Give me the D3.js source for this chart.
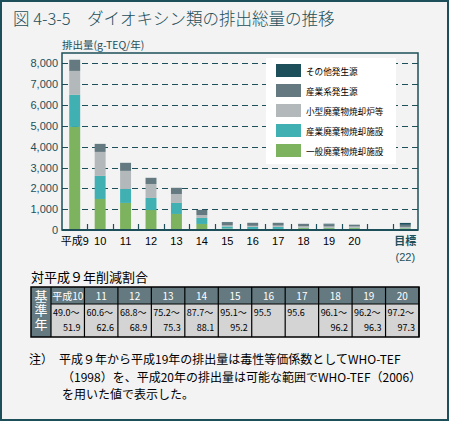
<!DOCTYPE html>
<html><head><meta charset="utf-8">
<script src="https://cdn.jsdelivr.net/npm/d3@7"></script>
<style>
html,body{margin:0;padding:0;background:#f3f3f3;}
svg{display:block;font-family:"Noto Sans CJK JP","Noto Sans",sans-serif;}
</style></head><body>
<svg id="c" width="449" height="421"></svg>
<script>
// ---- data ----
const categories = ["平成9","10","11","12","13","14","15","16","17","18","19","20","","目標"];
const seriesNames = ["一般廃棄物焼却施設","産業廃棄物焼却施設","小型廃棄物焼却炉等","産業系発生源","その他発生源"];
const general   = [4950,1490,1300,960,770,290,70,50,50,90,90,90,0,80];
const industrialWaste = [1540,1110,670,580,530,290,100,100,100,20,20,20,0,10];
const smallIncin = [1150,1150,870,670,430,140,50,50,60,70,60,60,0,60];
const industrySrc = [530,380,380,290,290,240,140,140,130,110,100,80,0,100];
const otherSrc = [5,5,5,5,5,5,25,5,5,5,30,5,0,90];
const yTicks = [0,1000,2000,3000,4000,5000,6000,7000,8000];
const tableYears = ["平成10","11","12","13","14","15","16","17","18","19","20"];
const tableLow  = ["49.0～","60.6～","68.8～","75.2～","87.7～","95.1～","95.5","95.6","96.1～","96.2～","97.2～"];
const tableHigh = ["51.9","62.6","68.9","75.3","88.1","95.2","","","96.2","96.3","97.3"];
const noteLines = ["注）　平成９年から平成19年の排出量は毒性等価係数としてWHO-TEF","（1998）を、平成20年の排出量は可能な範囲でWHO-TEF（2006）","を用いた値で表示した。"];

const colors = ["#7db25e","#40b0b2","#b3b8ba","#647a80","#1d4f5a"];
const teal = "#1d4f5a";

const svg = d3.select("#c");
svg.append("rect").attr("x",1).attr("y",1).attr("width",447).attr("height",419)
  .attr("fill","#f3f3f3").attr("stroke",teal).attr("stroke-width",2);

// title
svg.append("text").attr("x",13).attr("y",25).attr("font-size",16.5).attr("fill",teal)
  .attr("font-weight",300)
  .text("図 4-3-5　ダイオキシン類の排出総量の推移");

// scales
const L=62,R=418,T=53,B=230;
const x = d3.scaleBand().domain(categories).range([L,R]).paddingInner(0.57).paddingOuter(0.285);
const y = d3.scaleLinear().domain([0,8500]).range([B,T]);

// grid
svg.append("g").selectAll("line").data(yTicks.filter(d=>d>0)).join("line")
  .attr("x1",L).attr("x2",R).attr("y1",d=>Math.round(y(d))+0.5).attr("y2",d=>Math.round(y(d))+0.5)
  .attr("stroke",teal).attr("stroke-width",1.2).attr("stroke-dasharray","6,4");

// stacked bars
const rows = categories.map((c,i)=>({cat:c,s0:general[i],s1:industrialWaste[i],s2:smallIncin[i],s3:industrySrc[i],s4:otherSrc[i]}));
const stack = d3.stack().keys(["s0","s1","s2","s3","s4"])(rows);
svg.append("g").selectAll("g").data(stack).join("g").attr("fill",(d,i)=>colors[i])
  .selectAll("rect").data(d=>d).join("rect")
  .attr("x",d=>x(d.data.cat)).attr("width",x.bandwidth())
  .attr("y",d=>y(d[1])).attr("height",d=>Math.max(0,y(d[0])-y(d[1])));

// frame
svg.append("rect").attr("x",L).attr("y",T).attr("width",R-L).attr("height",B-T)
  .attr("fill","none").attr("stroke",teal).attr("stroke-width",1.5);
svg.append("line").attr("x1",L).attr("x2",R).attr("y1",B).attr("y2",B).attr("stroke",teal).attr("stroke-width",2);

// ticks between bands
const step = x.step();
svg.append("g").selectAll("line").data(categories.slice(1)).join("line")
  .attr("x1",d=>Math.round(x(d)-(step-x.bandwidth())/2)+0.5)
  .attr("x2",d=>Math.round(x(d)-(step-x.bandwidth())/2)+0.5)
  .attr("y1",B).attr("y2",B-6).attr("stroke",teal).attr("stroke-width",1.2);

// y axis labels
const yAxis = d3.axisLeft(y).tickValues(yTicks).tickFormat(d3.format(",")).tickSize(0).tickPadding(4);
const gy = svg.append("g").attr("transform",`translate(${L},0)`).call(yAxis);
gy.select(".domain").remove();
gy.selectAll("text").attr("font-size",11).attr("fill",teal).attr("font-family","'Liberation Sans',sans-serif");

// x axis labels
const xAxis = d3.axisBottom(x).tickSize(0).tickPadding(7);
const gx = svg.append("g").attr("transform",`translate(0,${B})`).call(xAxis);
gx.select(".domain").remove();
gx.selectAll("text").attr("font-size",11).attr("fill",d=>d==="目標"?teal:"#000")
  .attr("font-weight",d=>d==="目標"?700:400)
  .attr("font-family",d=>/^\d+$/.test(d)?"'Liberation Sans',sans-serif":"'Noto Sans CJK JP',sans-serif");
gx.selectAll(".tick").filter(d=>d==="目標").append("text")
  .attr("y",23).attr("dy","0.71em").attr("text-anchor","middle").attr("font-size",11)
  .attr("fill",teal).attr("font-family","'Liberation Sans',sans-serif").text("(22)");

// y title
svg.append("text").attr("x",L).attr("y",49).attr("font-size",10.5).attr("fill",teal).text("排出量(g-TEQ/年)");

// legend
const lg = svg.append("g");
lg.append("rect").attr("x",266).attr("y",58).attr("width",130).attr("height",106).attr("fill","#fff");
const legendOrder = [4,3,2,1,0];
legendOrder.forEach((k,i)=>{
  lg.append("rect").attr("x",276).attr("y",64+i*20).attr("width",25).attr("height",13).attr("fill",colors[k]);
  lg.append("text").attr("x",306).attr("y",74.5+i*20).attr("font-size",8.6).attr("fill","#000").text(seriesNames[k]);
});

// table
svg.append("text").attr("x",31).attr("y",282).attr("font-size",13).attr("fill","#000").text("対平成９年削減割合");
const tx0=31, tx1=51, tw=(419-51)/11, ty0=287, ty1=304, ty2=337;
const slate="#647a80";
svg.append("rect").attr("x",tx0).attr("y",ty0).attr("width",tx1-tx0).attr("height",ty2-ty0).attr("fill",slate);
svg.append("rect").attr("x",tx1).attr("y",ty0).attr("width",11*tw).attr("height",ty1-ty0).attr("fill",slate);
svg.append("rect").attr("x",tx1).attr("y",ty1).attr("width",11*tw).attr("height",ty2-ty1).attr("fill","#d4d4d4");
svg.append("text").attr("x",(tx0+tx1)/2).attr("y",290)
  .style("writing-mode","vertical-rl").attr("letter-spacing",1)
  .attr("font-size",13).attr("fill","#fff").text("基準年");
const tg = svg.append("g");
tg.selectAll("text.h").data(tableYears).join("text").attr("class","h")
  .attr("x",(d,i)=>tx1+tw*i+tw/2).attr("y",299.5).attr("text-anchor","middle")
  .attr("font-size",10).attr("fill","#fff").text(d=>d);
tg.selectAll("text.lo").data(tableLow).join("text").attr("class","lo")
  .attr("x",(d,i)=>tx1+tw*i+2).attr("y",316).attr("font-size",9).attr("fill","#000").text(d=>d);
tg.selectAll("text.hi").data(tableHigh).join("text").attr("class","hi")
  .attr("x",(d,i)=>tx1+tw*(i+1)-4).attr("y",331).attr("text-anchor","end")
  .attr("font-size",9).attr("fill","#000").text(d=>d);
// grid lines of table
const tl = svg.append("g").attr("stroke","#000").attr("stroke-width",1.2);
d3.range(12).forEach(i=>{
  tl.append("line").attr("x1",tx1+tw*i).attr("x2",tx1+tw*i).attr("y1",ty0).attr("y2",ty2);
});
tl.append("line").attr("x1",tx1).attr("x2",tx1+11*tw).attr("y1",ty1).attr("y2",ty1);
tl.append("rect").attr("x",tx0).attr("y",ty0).attr("width",tx1+11*tw-tx0).attr("height",ty2-ty0).attr("fill","none").attr("stroke-width",1.5);

// note
noteLines.forEach((t,i)=>{
  svg.append("text").attr("x",i===0?29:62).attr("y",364+i*17.5).attr("font-size",12).attr("fill","#000").text(t);
});
</script>
</body></html>
